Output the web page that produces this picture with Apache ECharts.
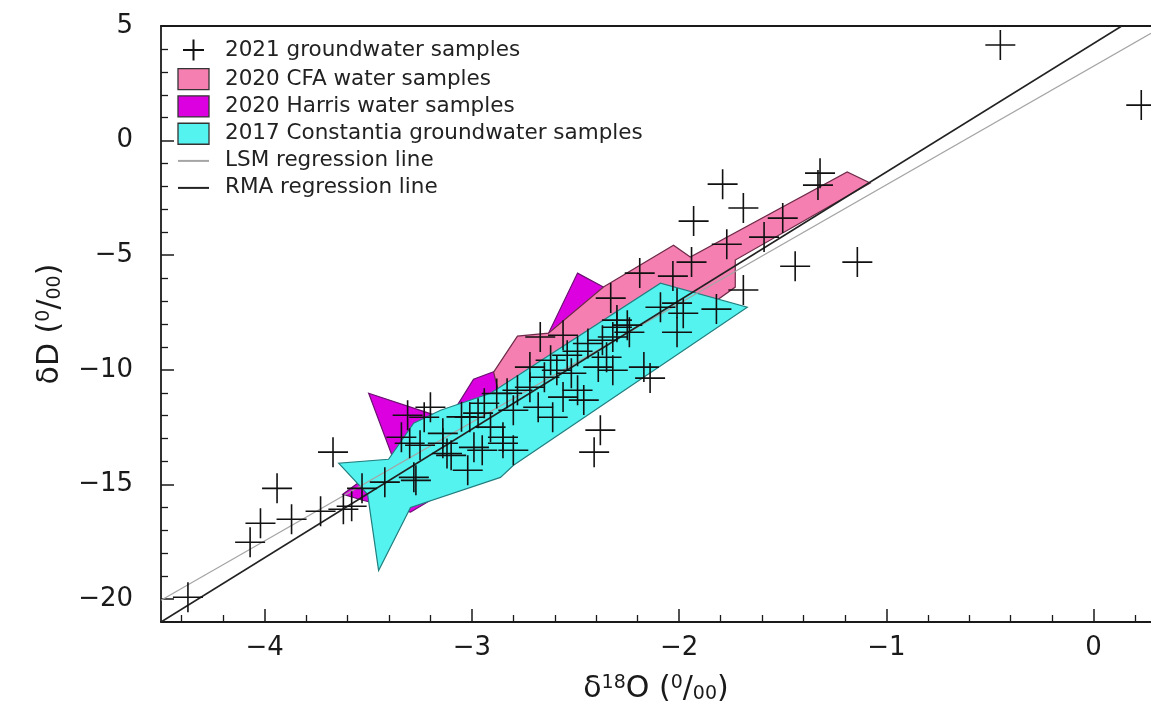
<!DOCTYPE html>
<html><head><meta charset="utf-8">
<script src="https://cdn.jsdelivr.net/npm/echarts@6/dist/echarts.min.js"></script>
<style>html,body{margin:0;padding:0;background:#fff}#c{width:1151px;height:716px}</style>
</head><body><div id="c"></div>
<script>
// 2021 groundwater samples: [d18O, dD]
const groundwater2021 = [
  [-0.45, 4.17], [0.23, 1.55], [-1.14, -5.30], [-1.44, -5.48], [-1.32, -1.42], [-1.33, -1.94],
  [-1.50, -3.38], [-1.59, -4.21], [-1.79, -1.90], [-1.69, -2.94], [-1.93, -3.51], [-1.77, -4.52],
  [-1.94, -5.30], [-2.19, -5.78], [-2.03, -5.91], [-2.33, -6.87], [-1.69, -6.52], [-1.82, -7.35],
  [-1.98, -7.53], [-2.01, -8.36], [-2.01, -7.09], [-2.09, -7.27], [-2.25, -8.05], [-2.30, -7.83],
  [-2.24, -8.36], [-2.32, -8.57], [-2.37, -8.71], [-2.56, -8.49], [-2.67, -8.57], [-2.17, -9.88],
  [-2.14, -10.36], [-2.32, -10.02], [-2.35, -9.45], [-2.39, -9.88], [-2.54, -9.36], [-2.52, -10.15],
  [-2.59, -10.02], [-2.72, -9.88], [-2.65, -10.32], [-2.72, -10.76], [-2.78, -10.89], [-2.83, -11.02],
  [-2.49, -10.89], [-2.46, -11.32], [-2.56, -11.19], [-2.61, -12.07], [-2.68, -11.63], [-2.80, -11.76],
  [-2.38, -12.63], [-2.41, -13.59], [-2.97, -11.89], [-3.01, -12.07], [-2.94, -11.46], [-3.20, -11.63],
  [-2.91, -12.50], [-2.85, -12.94], [-3.14, -13.20], [-2.99, -13.38], [-3.10, -13.73], [-2.95, -13.51],
  [-2.80, -13.51], [-3.02, -14.38], [-4.37, -19.92], [-4.07, -17.52], [-4.02, -16.69], [-3.94, -15.17],
  [-3.87, -16.52], [-3.73, -16.17], [-3.62, -16.08], [-3.58, -15.95], [-3.67, -13.59], [-3.53, -15.17],
  [-3.42, -14.90], [-3.28, -14.69], [-3.27, -14.82], [-3.31, -11.98], [-3.23, -12.07], [-3.30, -13.20],
  [-3.25, -13.29], [-3.14, -12.77], [-3.12, -13.65], [-3.34, -12.94], [-2.85, -13.20], [-2.30, -8.14],
  [-2.44, -8.85], [-2.49, -9.19], [-2.62, -9.58], [-2.88, -11.03], [-3.05, -12.05]
];
// field outlines: [d18O, dD]
const cfa2020 = [
  [-2.895, -10.10], [-2.780, -8.53], [-2.630, -8.40], [-2.365, -6.39], [-2.027, -4.56], [-1.946, -5.08],
  [-1.189, -1.37], [-1.078, -1.85], [-1.729, -5.21], [-1.729, -6.39], [-1.897, -7.48], [-2.765, -12.20],
  [-2.862, -11.32]
];
const harris2020 = [
  [-3.498, -11.02], [-3.190, -11.94], [-3.127, -12.37], [-2.992, -10.41], [-2.876, -10.02], [-2.630, -8.40],
  [-2.490, -5.78], [-2.365, -6.39], [-2.379, -8.27], [-2.572, -10.45], [-2.958, -14.38], [-3.296, -16.21],
  [-3.527, -15.69], [-3.623, -15.43], [-3.382, -13.81]
];
const constantia2017 = [
  [-3.643, -14.07], [-3.503, -15.43], [-3.450, -18.75], [-3.296, -16.00], [-2.862, -14.69], [-2.799, -14.16],
  [-1.671, -7.27], [-2.090, -6.22], [-2.910, -11.02], [-3.151, -11.76], [-3.281, -12.33], [-3.402, -13.90]
];
const lsmLine = [[-4.5, -20.05], [0.277, 4.68]];
const rmaLine = [[-4.5, -21.0], [0.136, 5.0]];

const xMajorTicks = [-4, -3, -2, -1, 0];
const xMinorTicks = [-4.4, -4.2, -3.8, -3.6, -3.4, -3.2, -2.8, -2.6, -2.4, -2.2, -1.8, -1.6, -1.4, -1.2, -0.8, -0.6, -0.4, -0.2, 0.2];
const yMajorTicks = [-20, -15, -10, -5, 0, 5];
const yMinorTicks = [-19, -18, -17, -16, -14, -13, -12, -11, -9, -8, -7, -6, -4, -3, -2, -1, 1, 2, 3, 4];

const names = ['2021 groundwater samples', '2020 CFA water samples', '2020 Harris water samples',
  '2017 Constantia groundwater samples', 'LSM regression line', 'RMA regression line'];

const FONT = 'DejaVu Sans';
const INK = '#1a1a1a';
const fmt = v => (v < 0 ? '\u2212' + Math.abs(v) : String(v));

function polygonSeries(name, pts, fill, stroke, z) {
  return {
    type: 'custom', name: name, z: z, silent: true,
    data: pts, encode: { x: 0, y: 1 },
    itemStyle: { color: fill, borderColor: stroke },
    renderItem: function (params, api) {
      if (params.dataIndex !== 0) return null;
      return {
        type: 'polygon',
        shape: { points: pts.map(p => api.coord(p)) },
        style: { fill: fill, stroke: stroke, lineWidth: 1.2 }
      };
    }
  };
}

const richName = {
  a: { fontSize: 30, fontFamily: FONT, color: INK },
  sup: { fontSize: 19, fontFamily: FONT, color: INK, verticalAlign: 'top' },
  sub: { fontSize: 19, fontFamily: FONT, color: INK, verticalAlign: 'bottom' }
};

const xBase = { type: 'value', min: -4.5, max: 0.277, splitLine: { show: false } };
const yBase = { type: 'value', min: -21, max: 5, splitLine: { show: false } };
const hiddenSymbol = { color: 'rgba(0,0,0,0)', borderWidth: 0, opacity: 0 };

const chart = echarts.init(document.getElementById('c'));
chart.setOption({
  animation: false,
  backgroundColor: '#fff',
  grid: { left: 161, right: 0, top: 26, bottom: 94, containLabel: false },
  xAxis: [
    Object.assign({}, xBase, {
      position: 'bottom',
      axisLine: { show: true, onZero: false, lineStyle: { color: INK, width: 1.8 } },
      axisTick: { show: true, inside: true, length: 13, customValues: xMajorTicks, lineStyle: { color: INK, width: 1.5 } },
      axisLabel: { show: true, customValues: xMajorTicks, formatter: fmt, fontSize: 26, fontFamily: FONT, color: INK, margin: 13 },
      name: '{a|\u03b4}{sup|18}{a|O (}{sup|0}{a|/}{sub|00}{a|)}',
      nameLocation: 'middle', nameGap: 52,
      nameTextStyle: { rich: richName }
    }),
    Object.assign({}, xBase, {
      position: 'bottom',
      axisLine: { show: false, onZero: false },
      axisTick: { show: true, inside: true, length: 7, customValues: xMinorTicks, lineStyle: { color: INK, width: 1.3 } },
      axisLabel: { show: false }
    }),
    Object.assign({}, xBase, {
      position: 'top',
      axisLine: { show: true, onZero: false, lineStyle: { color: INK, width: 1.8 } },
      axisTick: { show: false }, axisLabel: { show: false }
    })
  ],
  yAxis: [
    Object.assign({}, yBase, {
      position: 'left',
      axisLine: { show: true, onZero: false, lineStyle: { color: INK, width: 1.8 } },
      axisTick: { show: true, inside: true, length: 13, customValues: yMajorTicks, lineStyle: { color: INK, width: 1.5 } },
      axisLabel: { show: true, customValues: yMajorTicks, formatter: fmt, fontSize: 26, fontFamily: FONT, color: INK, margin: 28 },
      name: '{a|\u03b4D (}{sup|0}{a|/}{sub|00}{a|)}',
      nameLocation: 'middle', nameGap: 96, nameRotate: 90,
      nameTextStyle: { rich: richName }
    }),
    Object.assign({}, yBase, {
      position: 'left',
      axisLine: { show: false, onZero: false },
      axisTick: { show: true, inside: true, length: 7, customValues: yMinorTicks, lineStyle: { color: INK, width: 1.3 } },
      axisLabel: { show: false }
    })
  ],
  legend: {
    orient: 'vertical', left: 172, top: 32, itemWidth: 31, itemHeight: 21, itemGap: 5,
    selectedMode: false,
    textStyle: { fontSize: 21.5, lineHeight: 21, fontFamily: FONT, color: '#222', padding: [0, 0, 0, 11] },
    data: [
      { name: names[0] },
      { name: names[1], icon: 'rect', itemStyle: { color: '#f57fb1', borderColor: '#333', borderWidth: 1.3 } },
      { name: names[2], icon: 'rect', itemStyle: { color: '#dc00e0', borderColor: '#333', borderWidth: 1.3 } },
      { name: names[3], icon: 'rect', itemStyle: { color: '#55f3ef', borderColor: '#333', borderWidth: 1.3 } },
      { name: names[4], itemStyle: hiddenSymbol },
      { name: names[5], itemStyle: hiddenSymbol }
    ]
  },
  series: [
    polygonSeries(names[2], harris2020, '#dc00e0', '#6a1070', 1),
    polygonSeries(names[1], cfa2020, '#f57fb1', '#6e2a48', 2),
    polygonSeries(names[3], constantia2017, '#55f3ef', '#217f80', 3),
    {
      type: 'line', name: names[4], data: lsmLine, z: 4, symbol: 'none', showSymbol: false, silent: true,
      lineStyle: { color: '#a5a5a5', width: 1.3 }, itemStyle: { color: '#a5a5a5' }
    },
    {
      type: 'line', name: names[5], data: rmaLine, z: 5, symbol: 'none', showSymbol: false, silent: true,
      lineStyle: { color: '#222', width: 1.5 }, itemStyle: { color: '#222' }
    },
    {
      type: 'scatter', name: names[0], data: groundwater2021, z: 6, silent: true,
      symbol: 'path://M0,-1L0,1M-1,0L1,0', symbolSize: 30,
      itemStyle: { color: 'none', borderColor: '#111', borderWidth: 1.6, opacity: 1 }
    }
  ]
});
</script></body></html>
